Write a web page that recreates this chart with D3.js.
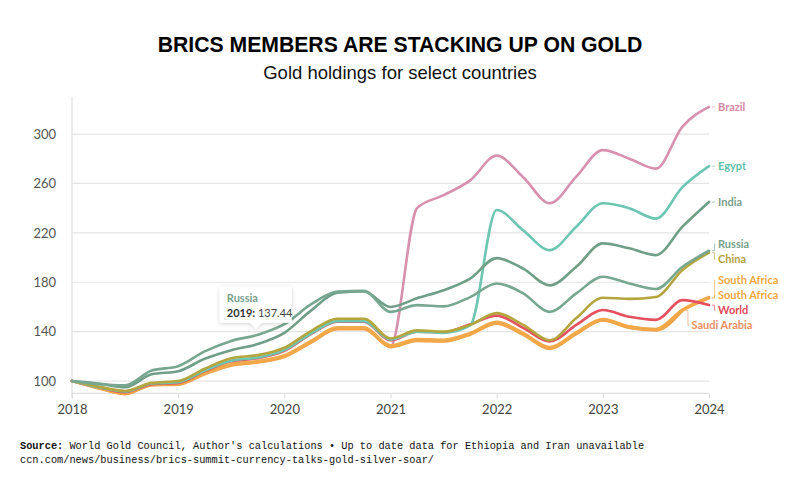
<!DOCTYPE html>
<html>
<head>
<meta charset="utf-8">
<script src="https://cdn.jsdelivr.net/npm/d3@7"></script>
<style>
  html, body { margin: 0; padding: 0; background: #fff; }
  svg { display: block; }
</style>
</head>
<body>
<svg id="chart" width="800" height="480"></svg>
<script>
// ---------------- DATA ----------------
const quarters = [2018, 2018.25, 2018.5, 2018.75, 2019, 2019.25, 2019.5, 2019.75,
  2020, 2020.25, 2020.5, 2020.75, 2021, 2021.25, 2021.5, 2021.75,
  2022, 2022.25, 2022.5, 2022.75, 2023, 2023.25, 2023.5, 2023.75, 2024];

const brazil      = [100, 94.5, 89.5, 97, 97.5, 106, 113, 115.5, 120, 131.5, 142.5, 142.5, 128, 240, 250.5, 262.5, 282.5, 265, 244, 265.5, 287, 280, 272, 306, 322];
const saudiArabia = [100, 94, 89.5, 96.5, 97, 105.5, 112.5, 115, 119.5, 131, 142, 142, 127.5, 132.5, 132, 137.5, 146.5, 137.5, 126, 138, 149, 143, 141, 157];
const southAfrica2= [100, 95, 90, 97.5, 98, 106.8, 113.8, 116.3, 121, 132.5, 143.5, 143.5, 129, 134, 133.5, 139, 148, 139, 127.5, 139.5, 150.2, 144.3, 142.2, 157.8, 168];
const southAfrica = [100, 94.5, 89.5, 97, 97.5, 106, 113, 115.5, 120, 131.5, 142.5, 142.5, 128, 133, 132.5, 138, 147, 138, 126.5, 138.5, 149.5, 143.5, 141.5, 157, 167];
const world       = [100, 95, 91, 97.5, 98.5, 108, 116, 118.5, 124.5, 138, 148, 148, 133, 140, 139.5, 146, 153, 143, 132, 145.5, 157.5, 152, 149.5, 165.5, 161.5];
const egypt       = [100, 95, 91.5, 98, 99, 108.5, 116.5, 119, 125, 138.5, 148.5, 148.5, 133.5, 140, 139, 145, 238.5, 222, 206, 225, 244, 240, 231.5, 257, 274];
const china       = [100, 95.5, 92, 98.5, 100, 110, 118.5, 121, 127, 140.5, 150.5, 150.5, 134.5, 141, 140, 145.5, 155, 145.5, 133, 151, 167.5, 166.5, 168, 190, 204];
const india       = [100, 98, 95, 105.5, 108, 118, 125, 130, 139, 157, 171.5, 172.5, 160, 167, 173.5, 183, 199.5, 191, 177.5, 192.5, 211.5, 207.5, 202, 225, 245];
const russia      = [100, 97.5, 96.5, 108.5, 112, 124, 132.5, 137.44, 146, 162, 172.5, 173, 156, 161.5, 160.5, 168, 179, 171, 156, 171, 184.5, 179, 174.5, 192.5, 205.5];

const seriesNames  = ["Brazil", "Saudi Arabia", "South Africa", "South Africa", "World", "Egypt", "China", "India", "Russia"];
const seriesValues = [brazil, saudiArabia, southAfrica2, southAfrica, world, egypt, china, india, russia];
const seriesColors = ["#d790ad", "#f0a24e", "#f2aa4c", "#f2a847", "#e4505e", "#6cc6b1", "#b4a53e", "#6f9f89", "#78a791"];
const labelColors  = ["#d48aa8", "#ec8f66", "#f0a83e", "#f0a83e", "#e2485c", "#62c1ab", "#b3a23e", "#7a9e8c", "#77a08d"];

const yearTicks = [2018, 2019, 2020, 2021, 2022, 2023, 2024];
const valueTicks = [100, 140, 180, 220, 260, 300];

const tooltipSeries = "Russia";
const tooltipYearLabel = "2019";
const tooltipIndex = 7;

const titleText = "BRICS MEMBERS ARE STACKING UP ON GOLD";
const subtitleText = "Gold holdings for select countries";
const sourceLabel = "Source:";
const sourceText = " World Gold Council, Author's calculations \u2022 Up to date data for Ethiopia and Iran unavailable";
const urlText = "ccn.com/news/business/brics-summit-currency-talks-gold-silver-soar/";

// ---------------- LAYOUT ----------------
const svg = d3.select("#chart");
const x = d3.scaleLinear().domain([2018, 2024]).range([72, 709]);
const y = d3.scaleLinear().domain([90, 330]).range([393.4, 97]);

svg.append("rect").attr("width", 800).attr("height", 480).attr("fill", "#fff");

// Title & subtitle
svg.append("text").attr("x", 400).attr("y", 52).attr("text-anchor", "middle")
  .attr("font-family", "Liberation Sans, Arial, sans-serif").attr("font-weight", "bold")
  .attr("font-size", 21.2).attr("fill", "#000").text(titleText);
svg.append("text").attr("x", 400).attr("y", 79).attr("text-anchor", "middle")
  .attr("font-family", "Liberation Sans, Arial, sans-serif")
  .attr("font-size", 18.5).attr("fill", "#111").text(subtitleText);

// Gridlines
svg.append("g").selectAll("line").data(valueTicks).join("line")
  .attr("x1", x(2018)).attr("x2", x(2024))
  .attr("y1", d => y(d)).attr("y2", d => y(d))
  .attr("stroke", "#e5e5e5").attr("stroke-width", 1.2);

// Axes
const yAxis = d3.axisLeft(y).tickValues(valueTicks).tickSize(0).tickPadding(16);
const gy = svg.append("g").attr("transform", `translate(${x(2018)},0)`).call(yAxis);
gy.select(".domain").attr("stroke", "#e0e0e0").attr("stroke-width", 1.2)
  .attr("d", `M0,${y(330)}V${y(90) + 5}`);
gy.selectAll("text").attr("font-family", "Lato, sans-serif").attr("font-size", 13)
  .attr("fill", "#555");

const xAxis = d3.axisBottom(x).tickValues(yearTicks).tickFormat(d3.format("d")).tickSize(5).tickPadding(6);
const gx = svg.append("g").attr("transform", `translate(0,${y(90)})`).call(xAxis);
gx.select(".domain").attr("stroke", "#e0e0e0").attr("stroke-width", 1.2)
  .attr("d", `M${x(2018)},0H${x(2024)}`);
gx.selectAll(".tick line").attr("stroke", "#e0e0e0").attr("stroke-width", 1.2);
gx.selectAll("text").attr("font-family", "Lato, sans-serif").attr("font-size", 13)
  .attr("fill", "#444");

// Lines
const line = d3.line()
  .x((d, i) => x(quarters[i]))
  .y(d => y(d))
  .curve(d3.curveMonotoneX);

svg.append("g").selectAll("path").data(seriesValues).join("path")
  .attr("d", d => line(d))
  .attr("fill", "none")
  .attr("stroke", (d, i) => seriesColors[i])
  .attr("stroke-width", 2.6)
  .attr("stroke-linejoin", "round")
  .attr("stroke-linecap", "round");

// End labels with collision avoidance
const labels = seriesValues.map((vals, i) => {
  const last = vals.length - 1;
  return { name: seriesNames[i], color: labelColors[i], xEnd: x(quarters[last]), yData: y(vals[last]), target: y(vals[last]) };
});
const gap = 15;
const sorted = labels.slice().sort((a, b) => a.target - b.target);
let groups = sorted.map(l => ({ items: [l], top: l.target }));
let changed = true;
while (changed) {
  changed = false;
  for (let i = 0; i < groups.length - 1; i++) {
    const g = groups[i], h = groups[i + 1];
    const gBottom = g.top + (g.items.length - 1) * gap;
    if (h.top - gBottom < gap) {
      const items = g.items.concat(h.items);
      const mean = d3.mean(items, d => d.target);
      groups.splice(i, 2, { items, top: mean - (items.length - 1) * gap / 2 });
      changed = true;
      break;
    }
  }
}
groups.forEach(g => g.items.forEach((it, k) => it.y = g.top + k * gap));

const lg = svg.append("g");
labels.forEach(l => {
  const x0 = l.xEnd + 3, x1 = l.xEnd + 5.5;
  lg.append("path")
    .attr("d", `M${x0},${l.yData}H${x1}V${l.y}H${x1 + 1}`)
    .attr("fill", "none").attr("stroke", l.color).attr("stroke-opacity", 0.6).attr("stroke-width", 1);
  lg.append("text").attr("x", l.xEnd + 9).attr("y", l.y).attr("dy", "0.35em")
    .attr("font-family", "Lato, sans-serif").attr("font-weight", "bold").attr("font-size", 11)
    .attr("fill", l.color).text(l.name);
});

// Tooltip
const defs = svg.append("defs");
const f = defs.append("filter").attr("id", "shadow").attr("x", "-30%").attr("y", "-30%").attr("width", "160%").attr("height", "160%");
f.append("feDropShadow").attr("dx", 0).attr("dy", 1).attr("stdDeviation", 2).attr("flood-color", "#000").attr("flood-opacity", 0.18);

const ti = seriesNames.indexOf(tooltipSeries);
const tv = seriesValues[ti][tooltipIndex];
const tx = x(quarters[tooltipIndex]) - 2, ty = y(tv) - 6;
const bw = 72, bh = 36;
const tg = svg.append("g").attr("transform", `translate(${tx},${ty})`);
tg.append("path")
  .attr("d", `M${-bw / 2},${-bh - 6}H${bw / 2}V-6H6L0,0L-6,-6H${-bw / 2}Z`)
  .attr("fill", "#fff").attr("filter", "url(#shadow)");
tg.append("text").attr("x", -bw / 2 + 7).attr("y", -bh + 9)
  .attr("font-family", "Lato, sans-serif").attr("font-size", 11).attr("font-weight", "bold")
  .attr("fill", labelColors[ti]).text(tooltipSeries);
const t2 = tg.append("text").attr("x", -bw / 2 + 7).attr("y", -bh + 24)
  .attr("font-family", "Lato, sans-serif").attr("font-size", 11).attr("fill", "#444");
t2.append("tspan").attr("font-weight", "bold").attr("fill", "#333").text(tooltipYearLabel + ":");
t2.append("tspan").text(" " + d3.format(".2f")(tv));

// Footer
const ft = svg.append("text").attr("x", 20).attr("y", 449)
  .attr("font-family", "Liberation Mono, DejaVu Sans Mono, monospace").attr("font-size", 10.3).attr("fill", "#111");
ft.append("tspan").attr("font-weight", "bold").text(sourceLabel);
ft.append("tspan").text(sourceText);
svg.append("text").attr("x", 20).attr("y", 463)
  .attr("font-family", "Liberation Mono, DejaVu Sans Mono, monospace").attr("font-size", 10.3).attr("fill", "#111")
  .text(urlText);
</script>
</body>
</html>
